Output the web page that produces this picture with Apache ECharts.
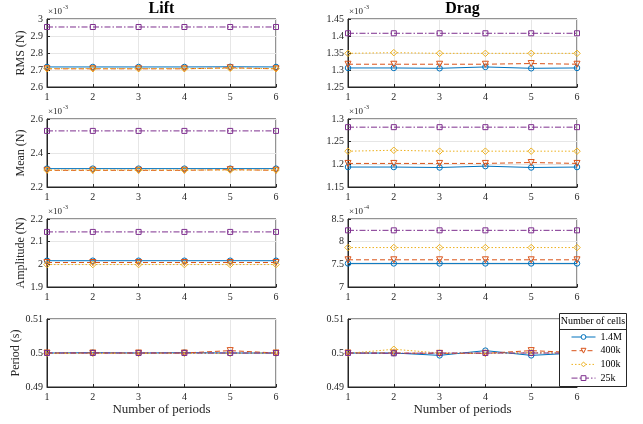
<!DOCTYPE html>
<html>
<head>
<meta charset="utf-8">
<script src="https://cdn.jsdelivr.net/npm/echarts@6/dist/echarts.min.js"></script>
<style>html,body{margin:0;padding:0;background:#fff}#c{width:643px;height:424px}</style>
</head>
<body>
<div id="c"></div>
<script>
// ---------- data ----------
const periods = [1, 2, 3, 4, 5, 6];
const cellLabels = ['1.4M', '400k', '100k', '25k'];
// each panel: rows follow cellLabels order (values shown in axis units, see exponent)
const liftRms = [
  [2.718, 2.718, 2.718, 2.718, 2.719, 2.718],
  [2.707, 2.707, 2.707, 2.707, 2.713, 2.707],
  [2.708, 2.708, 2.708, 2.708, 2.710, 2.708],
  [2.953, 2.953, 2.953, 2.953, 2.953, 2.953]
];
const dragRms = [
  [1.306, 1.306, 1.305, 1.309, 1.305, 1.306],
  [1.317, 1.317, 1.317, 1.317, 1.319, 1.317],
  [1.349, 1.351, 1.349, 1.349, 1.349, 1.349],
  [1.408, 1.408, 1.408, 1.408, 1.408, 1.408]
];
const liftMean = [
  [2.308, 2.308, 2.308, 2.308, 2.308, 2.308],
  [2.298, 2.298, 2.298, 2.298, 2.302, 2.298],
  [2.300, 2.300, 2.300, 2.300, 2.300, 2.300],
  [2.530, 2.530, 2.530, 2.530, 2.530, 2.530]
];
const dragMean = [
  [1.194, 1.194, 1.193, 1.196, 1.193, 1.194],
  [1.202, 1.202, 1.202, 1.202, 1.204, 1.202],
  [1.229, 1.231, 1.229, 1.229, 1.229, 1.229],
  [1.282, 1.282, 1.282, 1.282, 1.282, 1.282]
];
const liftAmp = [
  [2.016, 2.016, 2.016, 2.016, 2.016, 2.016],
  [2.008, 2.008, 2.008, 2.008, 2.008, 2.008],
  [1.999, 1.999, 1.999, 1.999, 1.999, 1.999],
  [2.143, 2.143, 2.143, 2.143, 2.143, 2.143]
];
const dragAmp = [
  [7.52, 7.52, 7.52, 7.52, 7.52, 7.52],
  [7.60, 7.60, 7.60, 7.60, 7.60, 7.60],
  [7.87, 7.87, 7.87, 7.87, 7.87, 7.87],
  [8.25, 8.25, 8.25, 8.25, 8.25, 8.25]
];
const liftPeriod = [
  [0.5000, 0.5001, 0.5000, 0.5001, 0.5000, 0.5000],
  [0.5000, 0.5000, 0.5000, 0.5000, 0.5007, 0.5000],
  [0.4999, 0.4999, 0.4999, 0.4999, 0.4999, 0.5000],
  [0.5000, 0.5000, 0.5000, 0.5000, 0.5000, 0.5000]
];
const dragPeriod = [
  [0.5000, 0.5000, 0.4993, 0.5007, 0.4993, 0.5000],
  [0.5000, 0.5000, 0.4999, 0.4999, 0.5007, 0.5001],
  [0.4999, 0.5011, 0.5000, 0.4999, 0.5001, 0.5000],
  [0.5000, 0.4999, 0.5000, 0.5000, 0.5000, 0.5000]
];
const yLabels = ['RMS (N)', 'Mean (N)', 'Amplitude (N)', 'Period (s)'];
const colTitles = ['Lift', 'Drag'];
const xLabel = 'Number of periods';

// ---------- styling ----------
const FONT = '"Liberation Serif", "DejaVu Serif", serif';
const TXT = '#262626';
const GRIDC = '#e6e6e6';
const colors = ['#0072BD', '#D95319', '#EDB120', '#7E2F8E'];
const lineTypes = ['solid', [5, 3], [1.5, 2], [6, 2, 1.5, 2]];
const symbols = ['circle', 'path://M0,0 L10,0 L5,9 Z', 'diamond', 'rect'];
const symSizes = [5.5, 6, 6.5, 5];

const panels = [
  {data: liftRms, min: 2.6, max: 3.0, interval: 0.1, exp: '-3', gap: 19},
  {data: dragRms, min: 1.25, max: 1.45, interval: 0.05, exp: '-3'},
  {data: liftMean, min: 2.2, max: 2.6, interval: 0.2, exp: '-3', gap: 19},
  {data: dragMean, min: 1.15, max: 1.30, interval: 0.05, exp: '-3'},
  {data: liftAmp, min: 1.9, max: 2.2, interval: 0.1, exp: '-3', gap: 19},
  {data: dragAmp, min: 7.0, max: 8.5, interval: 0.5, exp: '-4'},
  {data: liftPeriod, min: 0.49, max: 0.51, interval: 0.01, exp: null, gap: 24},
  {data: dragPeriod, min: 0.49, max: 0.51, interval: 0.01, exp: null}
];

const tops = [19, 119, 219, 319];
const lefts = [47, 348];
const W = 229, H = 68;

const grid = [], xAxis = [], yAxis = [], series = [], graphic = [];
panels.forEach((p, i) => {
  const r = Math.floor(i / 2), c = i % 2;
  grid.push({left: lefts[c], top: tops[r], width: W, height: H, show: true,
    borderColor: TXT, borderWidth: 1, backgroundColor: 'transparent'});
  xAxis.push({
    type: 'category', gridIndex: i, data: periods, boundaryGap: false,
    name: r === 3 ? xLabel : '', nameLocation: 'middle', nameGap: 16,
    nameTextStyle: {fontFamily: FONT, fontSize: 13, color: TXT},
    axisLine: {show: true, lineStyle: {color: TXT, width: 1}},
    axisTick: {show: true, inside: true, length: 3, lineStyle: {color: TXT}},
    axisLabel: {fontFamily: FONT, fontSize: 10, color: TXT, margin: 5},
    splitLine: {show: true, lineStyle: {color: GRIDC, width: 1}}
  });
  yAxis.push({
    type: 'value', gridIndex: i, min: p.min, max: p.max, interval: p.interval,
    name: c === 0 ? yLabels[r] : '', nameLocation: 'middle', nameGap: p.gap || 20, nameRotate: 90,
    nameTextStyle: {fontFamily: FONT, fontSize: 12, color: TXT},
    axisLine: {show: true, lineStyle: {color: TXT, width: 1}},
    axisTick: {show: true, inside: true, length: 3, lineStyle: {color: TXT}},
    axisLabel: {fontFamily: FONT, fontSize: 10, color: TXT, margin: 4,
      formatter: v => String(parseFloat(v.toFixed(4)))},
    splitLine: {show: true, lineStyle: {color: GRIDC, width: 1}}
  });
  p.data.forEach((vals, k) => {
    series.push({
      type: 'line', name: cellLabels[k], xAxisIndex: i, yAxisIndex: i,
      data: vals, symbol: symbols[k], symbolSize: symSizes[k], showSymbol: true,
      z: 2 + k,
      lineStyle: {color: colors[k], width: 1, type: lineTypes[k]},
      itemStyle: {color: 'rgba(255,255,255,0)', borderColor: colors[k], borderWidth: 1},
      emphasis: {disabled: true}, animation: false
    });
  });
  if (p.exp) {
    graphic.push({type: 'text', left: lefts[c] + 1, top: tops[r] - 12,
      style: {text: '×10', font: '9px ' + FONT, fill: TXT}});
    graphic.push({type: 'text', left: lefts[c] + 16, top: tops[r] - 15,
      style: {text: p.exp, font: '6px ' + FONT, fill: TXT}});
  }
});

// column titles
colTitles.forEach((t, c) => {
  graphic.push({type: 'text', x: lefts[c] + W / 2, y: 1,
    style: {text: t, font: 'bold 16px ' + FONT, fill: '#000', align: 'center', verticalAlign: 'top'}});
});

// legend box
graphic.push({type: 'rect', z: 10, shape: {x: 559.5, y: 313.5, width: 67, height: 73},
  style: {fill: '#fff', stroke: TXT, lineWidth: 1}});
graphic.push({type: 'line', z: 11, shape: {x1: 559.5, y1: 329.5, x2: 626.5, y2: 329.5},
  style: {stroke: TXT, lineWidth: 1}});
graphic.push({type: 'text', z: 11, x: 593, y: 321,
  style: {text: 'Number of cells', font: '10px ' + FONT, fill: '#000', align: 'center', verticalAlign: 'middle'}});

const legendData = cellLabels.map((name, k) => ({
  name, itemStyle: {color: '#fff', borderColor: colors[k], borderWidth: 1},
  lineStyle: {color: colors[k], width: 1, type: lineTypes[k]}
}));

const chart = echarts.init(document.getElementById('c'), null, {renderer: 'canvas'});
chart.setOption({
  animation: false,
  backgroundColor: '#fff',
  grid, xAxis, yAxis, series, graphic,
  legend: {
    data: legendData, orient: 'vertical', left: 571, top: 331, z: 20, padding: 0,
    itemWidth: 24, itemHeight: 6, itemGap: 1.7, selectedMode: false,
    lineStyle: {width: 1},
    textStyle: {fontFamily: FONT, fontSize: 10, color: '#000', lineHeight: 12}
  }
});
</script>
</body>
</html>
